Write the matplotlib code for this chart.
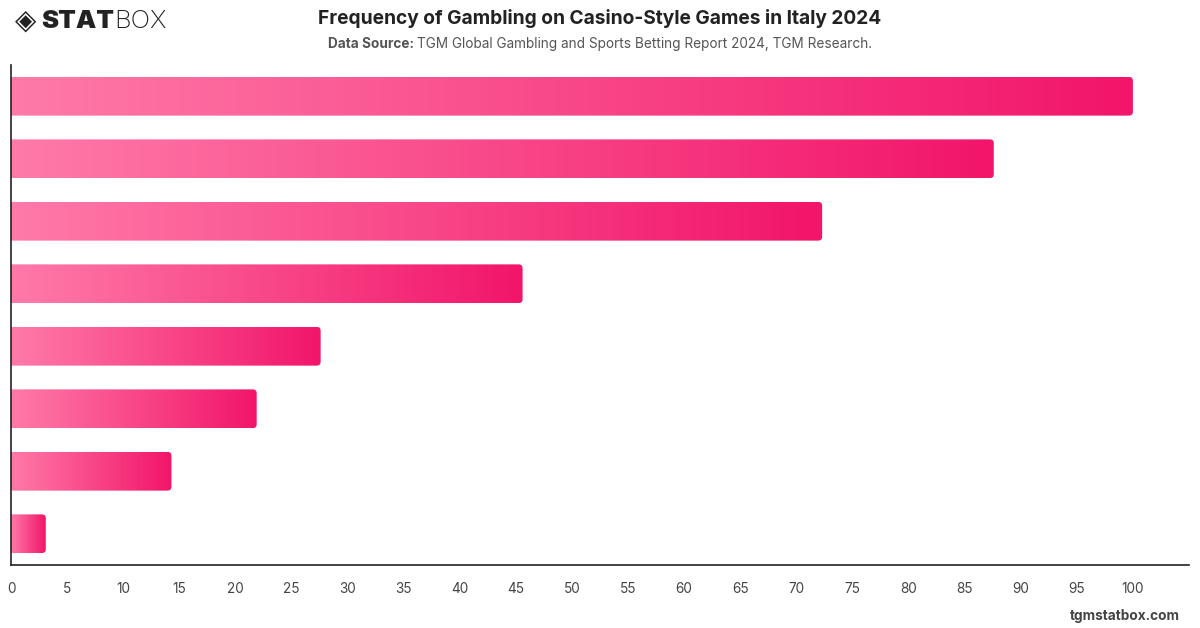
import numpy as np
import matplotlib
matplotlib.use("Agg")
import matplotlib.pyplot as plt
from matplotlib.patches import FancyBboxPatch
from matplotlib.colors import LinearSegmentedColormap

plt.rcParams['font.family'] = ['Inter', 'DejaVu Sans']

title = "Frequency of Gambling on Casino-Style Games in Italy 2024"
source_label = "Data Source:"
source_text = "TGM Global Gambling and Sports Betting Report 2024, TGM Research."
values = [100.0, 87.6, 72.3, 45.6, 27.6, 21.9, 14.3, 3.1]
xticks = list(range(0, 101, 5))

fig = plt.figure(figsize=(12, 6.28), dpi=100)
ax = fig.add_axes([11/1200, 1 - 565/628, (1189 - 11)/1200, (565 - 65)/628])
ax.set_xlim(0, 105)
n = len(values)
ax.set_ylim(n - 0.5, -0.5)

cmap = LinearSegmentedColormap.from_list("pk", ["#ff7aa8", "#f2156a"])
grad = np.linspace(0, 1, 256).reshape(1, -1)
h = 0.62
px_x = 1178 / 105.0
px_y = 500 / n
r_x = 4 / px_x
aspect = (1 / px_y) / (1 / px_x)
for i, v in enumerate(values):
    patch = FancyBboxPatch((-1, i - h/2), v + 1, h,
                           boxstyle=f"round,pad=0,rounding_size={r_x}",
                           mutation_aspect=aspect,
                           facecolor="none", edgecolor="none",
                           transform=ax.transData)
    ax.add_patch(patch)
    im = ax.imshow(grad, cmap=cmap, aspect="auto",
                   extent=(0, v, i + h/2, i - h/2), interpolation="bilinear",
                   zorder=2)
    im.set_clip_path(patch)
ax.set_xlim(0, 105)
ax.set_ylim(n - 0.5, -0.5)

ax.set_xticks(xticks)
ax.set_xticklabels([str(t) for t in xticks])
ax.set_yticks([])
ax.tick_params(axis='x', length=0, pad=12, labelsize=9.8, labelcolor="#444444")
for s in ["top", "right"]:
    ax.spines[s].set_visible(False)
for s in ["left", "bottom"]:
    ax.spines[s].set_color("#222222")
    ax.spines[s].set_linewidth(1.2)

fig.text(0.5, 1 - 18/628, title, ha="center", va="center",
         fontsize=13.8, fontweight="bold", color="#222222")
t1 = fig.text(0.5, 1 - 44/628, source_label + " ", ha="right", va="center",
              fontsize=9.8, fontweight="bold", color="#555555")
fig.canvas.draw()
r = fig.canvas.get_renderer()
w1 = t1.get_window_extent(r).width
t2 = fig.text(0.5, 1 - 44/628, source_text, ha="left", va="center",
              fontsize=9.8, color="#555555")
w2 = t2.get_window_extent(r).width
total = w1 + w2
start = 600 - total / 2
t1.set_position(((start + w1) / 1200, 1 - 44/628))
t2.set_position(((start + w1) / 1200, 1 - 44/628))

# logo
fig.text(15/1200, 1 - 21/628, "◈", ha="left", va="center", fontsize=20,
         color="#222222", family=["DejaVu Sans"])
lt = fig.text(41/1200, 1 - 21/628, "STAT", ha="left", va="center",
              fontsize=18.5, fontweight="black", color="#222222")
fig.canvas.draw()
wl = lt.get_window_extent(r).x1
fig.text(wl / 1200, 1 - 21/628, "BOX", ha="left", va="center",
         fontsize=18.5, fontweight="light", color="#222222")

fig.text(1180/1200, 1 - 616/628, "tgmstatbox.com", ha="right", va="center",
         fontsize=9.8, fontweight="bold", color="#444444")

fig.savefig("out.png", dpi=100)
